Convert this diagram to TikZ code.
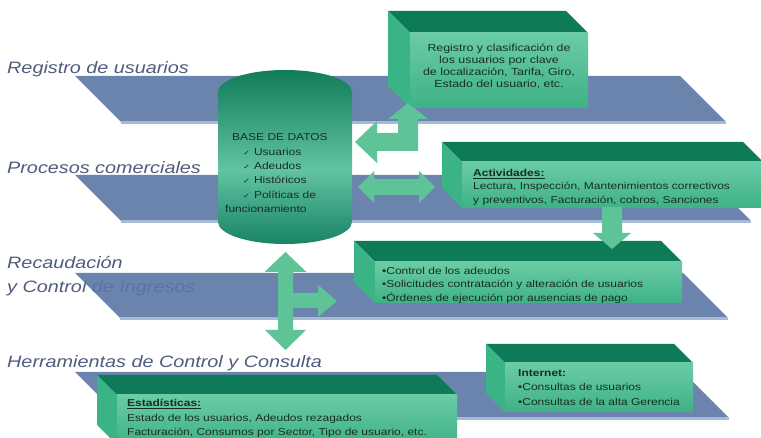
\documentclass[tikz,border=0pt]{standalone}
\usepackage{fontspec}
\setmainfont{Liberation Sans}
\newfontfamily\dejavu{DejaVu Sans}
\usepackage{graphicx}
\definecolor{plane}{HTML}{5A77A6}
\definecolor{planeedge}{HTML}{A6BAD8}
\definecolor{gtop}{HTML}{0D7B58}
\definecolor{gside}{HTML}{3AB385}
\definecolor{gfrontA}{HTML}{6ACCA6}
\definecolor{gfrontB}{HTML}{3FB186}
\definecolor{arrowg}{HTML}{5EC497}
\definecolor{lbl}{HTML}{505C7E}
\definecolor{btxt}{HTML}{15301F}
\definecolor{cylA}{HTML}{0F7A59}
\definecolor{cylB}{HTML}{62C3A2}
\definecolor{cylC}{HTML}{178265}
\newcommand{\wx}[1]{\scalebox{1.2}[1]{#1}}
\newcommand{\ck}{{\dejavu\fontsize{7}{7}\selectfont ✓}}
% x1 y1 x2 y2 depth
\newcommand{\greenbox}[5]{%
  \fill[gtop] ({#1-#5},{#2-#5}) -- ({#3-#5},{#2-#5}) -- (#3,#2) -- (#1,#2) -- cycle;
  \fill[gside] ({#1-#5},{#2-#5}) -- (#1,#2) -- (#1,#4) -- ({#1-#5},{#4-#5}) -- cycle;
  \shade[top color=gfrontA, bottom color=gfrontB] (#1,#2) rectangle (#3,#4);
}
% top y, bottom y, top-right x
\newcommand{\bandplane}[3]{%
  \fill[plane, fill opacity=0.9] (75,#1) -- (#3,#1) -- ({#3+#2-#1},#2) -- ({75+#2-#1},#2) -- cycle;
  \draw[planeedge, line width=2.5pt] ({75+#2-#1},{#2+0.5}) -- ({#3+#2-#1},{#2+0.5});
}
\tikzset{
  lbltxt/.style={text=lbl, inner sep=0pt, font=\fontsize{16.5}{24}\selectfont\itshape},
  boxtxt/.style={text=btxt, inner sep=0pt, font=\fontsize{10}{13.5}\selectfont},
  blockarrow/.style={fill=arrowg}
}
\begin{document}
\begin{tikzpicture}[x=1pt,y=-1pt]
\useasboundingbox (0,0) rectangle (761,438);
\clip (0,0) rectangle (761,438);
\fill[white] (0,0) rectangle (761,438);

% labels
\node[lbltxt, anchor=base west] (l1) at (7,74) {\wx{Registro de usuarios}};
\node[lbltxt, anchor=base west] (l2) at (7,174) {\wx{Procesos comerciales}};
\node[lbltxt, anchor=base west] (l3) at (7,269) {\wx{\begin{tabular}[t]{@{}l@{}}Recaudación\\y Control de Ingresos\end{tabular}}};
\node[lbltxt, anchor=base west] (l4) at (7,368) {\wx{Herramientas de Control y Consulta}};

% planes
\bandplane{76}{122}{680}
\bandplane{175}{221}{705}
\bandplane{273}{318}{683}
\bandplane{372}{418}{683}

% database cylinder
\begin{scope}
\clip (218,222) -- (218,92) arc[start angle=180, end angle=360, x radius=67, y radius=22]
  -- (352,222) arc[start angle=0, end angle=180, x radius=67, y radius=22] -- cycle;
\shade[top color=cylA, bottom color=cylB] (210,68) rectangle (360,170);
\shade[top color=cylB, bottom color=cylC] (210,169.5) rectangle (360,246);
\end{scope}

% green boxes
\greenbox{410}{33}{588}{108}{22}
\greenbox{462}{162}{763}{208}{20}
\greenbox{375}{262}{682}{303}{21}
\greenbox{117}{395}{457}{445}{20}
\greenbox{505}{363}{693}{412}{19}

% block arrows
\fill[blockarrow] (355,142) -- (377,121) -- (377,133) -- (398,133) -- (398,119) -- (388,119)
  -- (408,103) -- (428,119) -- (418,119) -- (418,151) -- (377,151) -- (377,163) -- cycle;
\fill[blockarrow] (358,187) -- (374,171) -- (374,179) -- (419,179) -- (419,171) -- (435,187)
  -- (419,203) -- (419,195) -- (374,195) -- (374,203) -- cycle;
\fill[blockarrow] (602,207) -- (622,207) -- (622,233) -- (631,233) -- (612,249) -- (593,233)
  -- (602,233) -- cycle;
\fill[blockarrow] (285.5,252) -- (306.5,272) -- (293,272) -- (293,293) -- (318,293) -- (318,285)
  -- (337,301) -- (318,317) -- (318,308) -- (293,308) -- (293,330) -- (306,330) -- (285.5,350)
  -- (265,330) -- (278,330) -- (278,272) -- (264.5,272) -- cycle;

% texts
\node[boxtxt, anchor=base, font=\fontsize{10.3}{11.7}\selectfont] (t1) at (499,52)
  {\wx{\begin{tabular}[t]{@{}c@{}}Registro y clasificación de\\los usuarios por clave\\de localización, Tarifa, Giro,\\Estado del usuario, etc.\end{tabular}}};
\node[boxtxt, anchor=base west] (t2) at (473,176.5)
  {\wx{\begin{tabular}[t]{@{}l@{}}\textbf{\underline{Actividades:}}\\Lectura, Inspección, Mantenimientos correctivos\\y preventivos, Facturación, cobros, Sanciones\end{tabular}}};
\node[boxtxt, anchor=base west] (t3) at (382,274.5)
  {\wx{\begin{tabular}[t]{@{}l@{}}•Control de los adeudos\\•Solicitudes contratación y alteración de usuarios\\•Órdenes de ejecución por ausencias de pago\end{tabular}}};
\node[boxtxt, anchor=base west, font=\fontsize{10}{14.5}\selectfont] (t4) at (127,406.5)
  {\wx{\begin{tabular}[t]{@{}l@{}}\textbf{\underline{Estadísticas:}}\\Estado de los usuarios, Adeudos rezagados\\Facturación, Consumos por Sector, Tipo de usuario, etc.\end{tabular}}};
\node[boxtxt, anchor=base west, font=\fontsize{10}{14.5}\selectfont] (t5) at (518,376.5)
  {\wx{\begin{tabular}[t]{@{}l@{}}\textbf{Internet:}\\•Consultas de usuarios\\•Consultas de la alta Gerencia\end{tabular}}};
\node[boxtxt, anchor=base west, font=\fontsize{10}{14.3}\selectfont] (db) at (225,141)
  {\wx{\begin{tabular}[t]{@{}l@{}}\hspace{5.8pt}BASE DE DATOS\\
   \hspace{15pt}\makebox[9pt][l]{\ck}Usuarios\\
   \hspace{15pt}\makebox[9pt][l]{\ck}Adeudos\\
   \hspace{15pt}\makebox[9pt][l]{\ck}Históricos\\
   \hspace{15pt}\makebox[9pt][l]{\ck}Políticas de\\
   funcionamiento\end{tabular}}};
\end{tikzpicture}
\end{document}
